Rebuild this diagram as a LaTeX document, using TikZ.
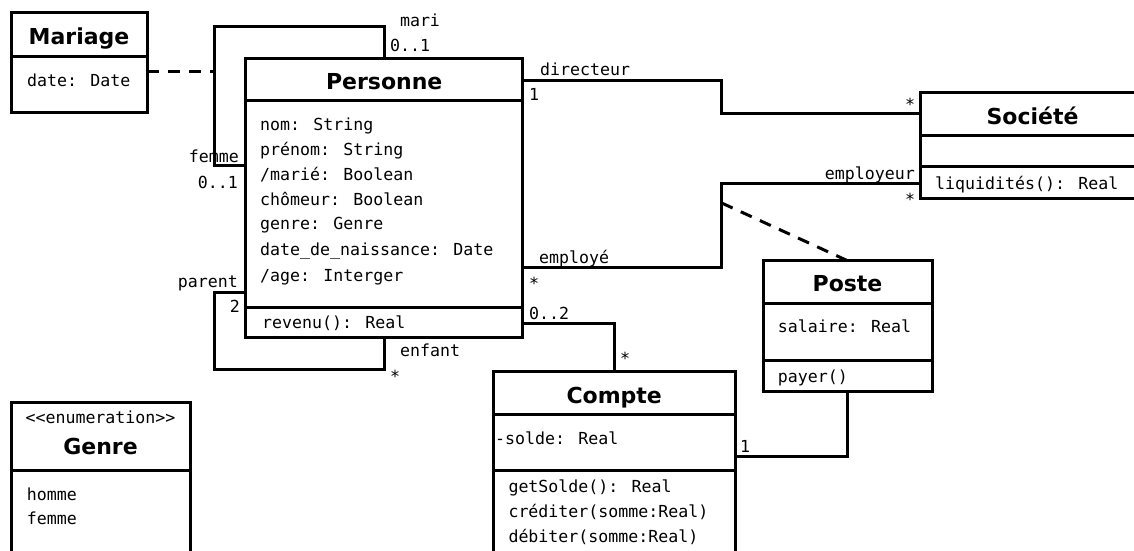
\documentclass[tikz,border=0pt]{standalone}
\usepackage{fontspec}
\setmainfont{DejaVu Sans}
\newfontfamily\monof{DejaVu Sans Mono}
\tikzset{
  cls/.style={draw, line width=3pt, rectangle, inner sep=0pt, outer sep=0pt, anchor=north west, fill=white},
  sepl/.style={line width=3pt},
  conn/.style={line width=3pt},
  dashconn/.style={line width=3pt, dash pattern=on 12pt off 9pt},
  ttl/.style={font=\fontsize{22}{26}\selectfont\bfseries, anchor=base, yshift=-8pt, inner sep=0pt},
  attr/.style={font=\monof\fontsize{16.6}{20}\selectfont, anchor=base west, yshift=-6pt, inner sep=0pt},
  lblr/.style={attr, anchor=base east},
  lblc/.style={attr, anchor=base},
  star/.style={attr, anchor=base, yshift=-4pt},
}
\begin{document}
\begin{tikzpicture}[x=1pt,y=-1pt]
\useasboundingbox (0,0) rectangle (1134,550);
\clip (0,0) rectangle (1134,550);

% ---- class boxes ----
\node[cls, minimum width=136pt, minimum height=100pt] (mar) at (11,12.7) {};
\draw[sepl] (11,56) -- (147,56);
\node[ttl] (marT) at (79,36.7) {Mariage};
\node[attr] (marA) at (27,80) {date: Date};

\node[cls, minimum width=277pt, minimum height=278.7pt] (pers) at (245.7,58.3) {};
\draw[sepl] (245.7,100) -- (522.7,100);
\draw[sepl] (245.7,307) -- (522.7,307);
\node[ttl] (persT) at (384.2,81.7) {Personne};
\node[attr] (pa1) at (260,124) {nom: String};
\node[attr] (pa2) at (260,149.3) {prénom: String};
\node[attr] (pa3) at (260,174) {/marié: Boolean};
\node[attr] (pa4) at (260,199.3) {chômeur: Boolean};
\node[attr] (pa5) at (260,223.3) {genre: Genre};
\node[attr] (pa6) at (260,249.3) {date\_de\_naissance: Date};
\node[attr] (pa7) at (260,275) {/age: Interger};
\node[attr] (po1) at (262,322.7) {revenu(): Real};

\node[cls, minimum width=230pt, minimum height=105.6pt] (soc) at (920,92.7) {};
\draw[sepl] (920,135) -- (1150,135);
\draw[sepl] (920,166.7) -- (1150,166.7);
\node[ttl] (socT) at (1032.5,116.7) {Société};
\node[attr] (so1) at (935,183.3) {liquidités(): Real};

\node[cls, minimum width=169pt, minimum height=131pt] (poste) at (763,260.7) {};
\draw[sepl] (763,303) -- (932,303);
\draw[sepl] (763,360) -- (932,360);
\node[ttl] (posteT) at (847.5,283) {Poste};
\node[attr] (pos1) at (777.7,326.7) {salaire: Real};
\node[attr] (pos2) at (777.7,376) {payer()};

\node[cls, minimum width=241.7pt, minimum height=200pt] (cpt) at (493.3,371.7) {};
\draw[sepl] (493.3,414.3) -- (735,414.3);
\draw[sepl] (493.3,470) -- (735,470);
\node[ttl] (cptT) at (614.2,395) {Compte};
\node[attr] (ca1) at (495,438.3) {-solde: Real};
\node[attr] (co1) at (508.3,486.7) {getSolde(): Real};
\node[attr] (co2) at (508.3,511.7) {créditer(somme:Real)};
\node[attr] (co3) at (508.3,536.7) {débiter(somme:Real)};

\node[cls, minimum width=179pt, minimum height=170pt] (gen) at (11,402.3) {};
\draw[sepl] (11,470.7) -- (190,470.7);
\node[lblc] (genS) at (100.5,417.3) {<{}<enumeration>{}>};
\node[ttl] (genT) at (100.5,446.7) {Genre};
\node[attr] (ge1) at (26.7,494.3) {homme};
\node[attr] (ge2) at (26.7,518.3) {femme};

% ---- connectors ----
\coordinate (mj) at (214.3,71);
\draw[dashconn] (mar.east |- mj) -- (mj);
\draw[conn] (pers.north) -- (pers.north |- 0,26.7) -- (214.3,26.7) -- (214.3,165.7) -- (214.3,165.7 -| pers.west);
\draw[conn] (214,292.7 -| pers.west) -- (214,292.7) -- (214,369) -- (pers.south |- 0,369) -- (pers.south);
\draw[conn] (0,80 -| pers.east) -- (721.7,80) -- (721.7,113.3) -- (0,113.3 -| soc.west);
\draw[conn] (0,267 -| pers.east) -- (721.7,267) -- (721.7,183.3) -- (0,183.3 -| soc.west);
\coordinate (pj) at (721.7,203);
\draw[dashconn] (pj) -- (poste.north);
\draw[conn] (0,323 -| pers.east) -| (cpt.north);
\draw[conn] (poste.south) |- (cpt.east |- 0,456.7);

% ---- labels ----
\node[lblc] (lmari) at (420,20) {mari};
\node[attr] (lmari1) at (390,45) {0..1};
\node[lblr] (lfemme) at (239,156.7) {femme};
\node[lblr] (lfemme1) at (238,182.7) {0..1};
\node[lblr] (lparent) at (238,281.7) {parent};
\node[lblr] (lparent2) at (240,306.7) {2};
\node[attr] (lenfant) at (400,350) {enfant};
\node[star] (lenfants) at (395,372.7) {*};
\node[attr] (ldir) at (540,69.3) {directeur};
\node[attr] (ldir1) at (529,94.3) {1};
\node[star] (ldirs) at (910,100.7) {*};
\node[attr] (lemp) at (539,257) {employé};
\node[star] (lemps) at (534,279) {*};
\node[lblr] (lempr) at (915,173.3) {employeur};
\node[star] (lemprs) at (910,195) {*};
\node[attr] (lcpt) at (529,313) {0..2};
\node[star] (lcpts) at (625,354) {*};
\node[lblc] (lposte1) at (745,446) {1};
\end{tikzpicture}
\end{document}
